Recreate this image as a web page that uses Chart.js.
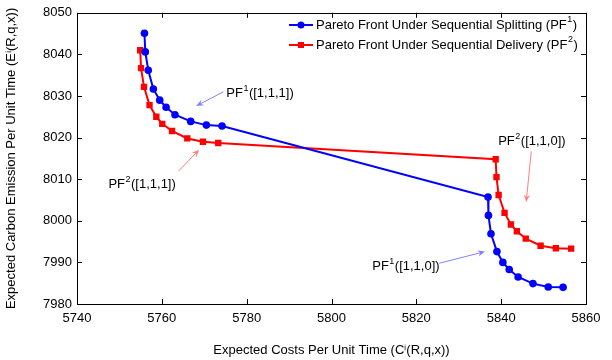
<!DOCTYPE html>
<html>
<head>
<meta charset="utf-8">
<script src="https://cdn.jsdelivr.net/npm/chart.js@4"></script>
<style>
  html, body { margin: 0; padding: 0; background: #fff; }
  #wrap { width: 612px; height: 360px; }
</style>
</head>
<body>
<div id="wrap"><canvas id="c" width="612" height="360"></canvas></div>
<script>
// データ
const splitCost = [5755.9, 5756.1, 5756.8, 5758.0, 5759.5, 5761.0, 5763.1, 5766.8, 5770.5, 5774.2,
                   5836.9, 5837.0, 5837.6, 5839.0, 5840.4, 5841.9, 5844.0, 5847.5, 5851.1, 5854.6]
const splitEmission = [8045.1, 8040.6, 8036.2, 8031.7, 8029.0, 8027.3, 8025.5, 8023.9, 8023.0, 8022.8,
                       8005.7, 8001.3, 7996.9, 7992.6, 7990.0, 7988.3, 7986.5, 7984.9, 7984.1, 7984.0]
const deliveryCost = [5754.9, 5755.1, 5755.8, 5757.1, 5758.7, 5760.1, 5762.4, 5766.0, 5769.7, 5773.3,
                      5838.7, 5838.9, 5839.4, 5840.8, 5842.3, 5843.7, 5845.8, 5849.3, 5852.9, 5856.5]
const deliveryEmission = [8041.0, 8036.7, 8032.2, 8027.8, 8025.0, 8023.3, 8021.6, 8019.8, 8019.0, 8018.7,
                          8014.8, 8010.5, 8006.2, 8001.9, 7999.1, 7997.5, 7995.7, 7994.0, 7993.4, 7993.3]

const xTicks = [5740, 5760, 5780, 5800, 5820, 5840, 5860]
const yTicks = [7980, 7990, 8000, 8010, 8020, 8030, 8040, 8050]

const seriesLabels = ['Pareto Front Under Sequential Splitting (PF', 'Pareto Front Under Sequential Delivery (PF']

// 注釈（データ座標）
const notes = [
  { sup: '1', rest: '([1,1,1])', x: 5775.2, y: 8030.5, from: [5774.5, 8031.0], to: [5768.1, 8027.6], color: '#7f7fff' },
  { sup: '2', rest: '([1,1,1])', x: 5747.4, y: 8008.8, from: [5763.9, 8011.9], to: [5768.8, 8017.1], color: '#ff7f7f' },
  { sup: '2', rest: '([1,1,0])', x: 5839.3, y: 8019.0, from: [5847.1, 8016.7], to: [5845.9, 8004.5], color: '#ff7f7f' },
  { sup: '1', rest: '([1,1,0])', x: 5809.6, y: 7989.0, from: [5825.4, 7989.8], to: [5836.2, 7992.6], color: '#7f7fff' }
]

const FONT = 'Liberation Sans, Arial, sans-serif'

function toPoints(xs, ys) {
  return xs.map((x, i) => ({ x: x, y: ys[i] }))
}

// PF + 上付き + 残り を描く
function drawSupText(ctx, text, sup, rest, x, y) {
  ctx.textAlign = 'left'
  ctx.textBaseline = 'middle'
  ctx.font = '13px ' + FONT
  ctx.fillText(text, x, y)
  let w = ctx.measureText(text).width
  ctx.font = '9px ' + FONT
  ctx.fillText(sup, x + w + 0.5, y - 5)
  w += ctx.measureText(sup).width + 1
  ctx.font = '13px ' + FONT
  ctx.fillText(rest, x + w, y)
}

function drawArrow(ctx, x1, y1, x2, y2, color) {
  const ang = Math.atan2(y2 - y1, x2 - x1)
  const len = 8
  ctx.save()
  ctx.strokeStyle = color
  ctx.fillStyle = color
  ctx.lineWidth = 1
  ctx.beginPath()
  ctx.moveTo(x1, y1)
  ctx.lineTo(x2 - Math.cos(ang) * 4, y2 - Math.sin(ang) * 4)
  ctx.stroke()
  ctx.beginPath()
  ctx.moveTo(x2, y2)
  ctx.lineTo(x2 - len * Math.cos(ang - 0.4), y2 - len * Math.sin(ang - 0.4))
  ctx.lineTo(x2 - len * 0.6 * Math.cos(ang), y2 - len * 0.6 * Math.sin(ang))
  ctx.lineTo(x2 - len * Math.cos(ang + 0.4), y2 - len * Math.sin(ang + 0.4))
  ctx.closePath()
  ctx.fill()
  ctx.restore()
}

const framePlugin = {
  id: 'frame',
  afterDatasetsDraw(chart) {
    const ctx = chart.ctx
    const xs = chart.scales.x
    const ys = chart.scales.y
    const a = chart.chartArea

    // 注釈
    ctx.save()
    notes.forEach(n => {
      drawArrow(ctx, xs.getPixelForValue(n.from[0]), ys.getPixelForValue(n.from[1]),
        xs.getPixelForValue(n.to[0]), ys.getPixelForValue(n.to[1]), n.color)
      ctx.fillStyle = '#000'
      drawSupText(ctx, 'PF', n.sup, n.rest, xs.getPixelForValue(n.x), ys.getPixelForValue(n.y))
    })
    ctx.restore()

    // 凡例
    const colors = ['#0000ff', '#ff0000']
    ctx.save()
    seriesLabels.forEach((label, i) => {
      const ly = 25 + i * 20
      ctx.strokeStyle = colors[i]
      ctx.fillStyle = colors[i]
      ctx.lineWidth = 2
      ctx.beginPath()
      ctx.moveTo(289, ly)
      ctx.lineTo(313, ly)
      ctx.stroke()
      if (i === 0) {
        ctx.beginPath()
        ctx.arc(301, ly, 3.5, 0, Math.PI * 2)
        ctx.fill()
      } else {
        ctx.fillRect(298, ly - 3, 6, 6)
      }
      ctx.fillStyle = '#000'
      drawSupText(ctx, label, String(i + 1), ')', 316, ly)
    })
    ctx.restore()

    // 枠と内向き目盛り
    ctx.save()
    ctx.strokeStyle = '#000'
    ctx.lineWidth = 1
    ctx.strokeRect(Math.round(a.left) + 0.5, Math.round(a.top) + 0.5,
      Math.round(a.right - a.left), Math.round(a.bottom - a.top))
    ctx.beginPath()
    xTicks.forEach(v => {
      const px = Math.round(xs.getPixelForValue(v)) + 0.5
      ctx.moveTo(px, a.bottom); ctx.lineTo(px, a.bottom - 5)
      ctx.moveTo(px, a.top); ctx.lineTo(px, a.top + 5)
    })
    yTicks.forEach(v => {
      const py = Math.round(ys.getPixelForValue(v)) + 0.5
      ctx.moveTo(a.left, py); ctx.lineTo(a.left + 5, py)
      ctx.moveTo(a.right, py); ctx.lineTo(a.right - 5, py)
    })
    ctx.stroke()
    ctx.restore()
  }
}

new Chart(document.getElementById('c'), {
  type: 'scatter',
  data: {
    datasets: [
      {
        label: seriesLabels[0],
        data: toPoints(splitCost, splitEmission),
        showLine: true,
        borderColor: '#0000ff',
        backgroundColor: '#0000ff',
        borderWidth: 2,
        pointStyle: 'circle',
        pointRadius: 3.8,
        pointBorderWidth: 0
      },
      {
        label: seriesLabels[1],
        data: toPoints(deliveryCost, deliveryEmission),
        showLine: true,
        borderColor: '#ff0000',
        backgroundColor: '#ff0000',
        borderWidth: 2,
        pointStyle: 'rect',
        pointRadius: 4.5,
        pointBorderWidth: 0
      }
    ]
  },
  options: {
    responsive: false,
    animation: false,
    devicePixelRatio: 1,
    layout: { padding: { left: 0, right: 26, top: 9, bottom: 0 } },
    plugins: {
      legend: { display: false },
      tooltip: { enabled: false }
    },
    scales: {
      x: {
        type: 'linear',
        min: 5740,
        max: 5860,
        afterBuildTicks: scale => { scale.ticks = xTicks.map(v => ({ value: v })) },
        afterFit: scale => { scale.height = 56 },
        grid: { display: false, drawTicks: false },
        border: { display: false },
        ticks: { color: '#000', font: { family: FONT, size: 13 }, padding: 7, maxRotation: 0,
                 callback: v => String(v) },
        title: {
          display: true,
          text: 'Expected Costs Per Unit Time (Cⁱ(R,q,x))',
          color: '#000',
          font: { family: FONT, size: 13 },
          padding: { top: 0, bottom: 2 }
        }
      },
      y: {
        type: 'linear',
        min: 7980,
        max: 8050,
        afterBuildTicks: scale => { scale.ticks = yTicks.map(v => ({ value: v })) },
        afterFit: scale => { scale.width = 77 },
        grid: { display: false, drawTicks: false },
        border: { display: false },
        ticks: { color: '#000', font: { family: FONT, size: 13 }, padding: 5,
                 callback: v => String(v) },
        title: {
          display: true,
          text: 'Expected Carbon Emission Per Unit Time (Eⁱ(R,q,x))',
          color: '#000',
          font: { family: FONT, size: 13 },
          padding: { top: 4, bottom: 0 }
        }
      }
    }
  },
  plugins: [framePlugin]
})
</script>
</body>
</html>
